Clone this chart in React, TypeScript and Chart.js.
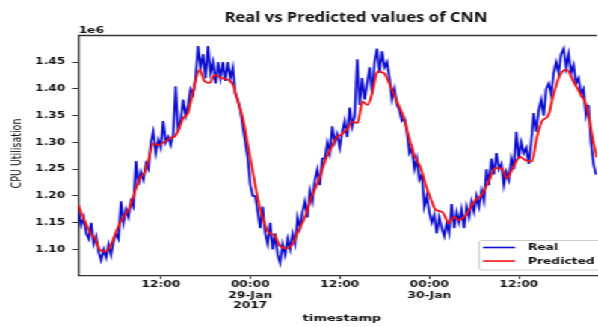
import React, { useEffect, useRef } from "react";
import { Chart, registerables } from "chart.js";

Chart.register(...registerables);

// ---------------- data ----------------
const chartTitle = "Real vs Predicted values of CNN";
const yAxisTitle = "CPU Utilisation";
const xAxisTitle = "timestamp";
const yOffsetText = "1e6";
const seriesNames = ["Real", "Predicted"];

// hours since 28-Jan-2017 00:00
const xTickHours = [12, 24, 36, 48, 60];
const xTickLabels: (string | string[])[] = [
  "12:00",
  ["00:00", "29-Jan", "2017"],
  "12:00",
  ["00:00", "30-Jan"],
  "12:00",
];
const yTickValues = [1.1, 1.15, 1.2, 1.25, 1.3, 1.35, 1.4, 1.45];
const xMin = 0.9;
const xMax = 70.45;
const yMin = 1.0515;
const yMax = 1.4996;

// Real series: sampled every 20 minutes starting at 01:00 on 28-Jan (values in 1e6)
const realStartHour = 1;
const realStepHours = 1 / 3;
const realValues = [
  1.17, 1.145, 1.16,
  1.13, 1.12, 1.15,
  1.11, 1.125, 1.095,
  1.08, 1.1, 1.085,
  1.11, 1.09, 1.115,
  1.13, 1.12, 1.19,
  1.15, 1.175, 1.16,
  1.19, 1.18, 1.265,
  1.22, 1.245, 1.23,
  1.26, 1.25, 1.3,
  1.32, 1.28, 1.305,
  1.29, 1.34, 1.3,
  1.31, 1.295, 1.315,
  1.405, 1.32, 1.34,
  1.38, 1.35, 1.37,
  1.4, 1.39, 1.42,
  1.48, 1.44, 1.465,
  1.42, 1.48, 1.43,
  1.45, 1.41, 1.45,
  1.42, 1.45, 1.415,
  1.45, 1.42, 1.44,
  1.39, 1.38, 1.36,
  1.33, 1.3, 1.27,
  1.22, 1.2, 1.2,
  1.17, 1.14, 1.18,
  1.13, 1.11, 1.15,
  1.1, 1.13, 1.09,
  1.075, 1.11, 1.09,
  1.12, 1.1, 1.13,
  1.11, 1.16, 1.14,
  1.17, 1.19, 1.16,
  1.21, 1.19, 1.23,
  1.25, 1.22, 1.27,
  1.27, 1.3, 1.28,
  1.33, 1.3, 1.315,
  1.29, 1.32, 1.34,
  1.31, 1.365, 1.33,
  1.35, 1.455, 1.37,
  1.42, 1.38, 1.41,
  1.44, 1.39, 1.45,
  1.475, 1.43, 1.47,
  1.44, 1.45, 1.42,
  1.38, 1.4, 1.37,
  1.36, 1.34, 1.345,
  1.32, 1.28, 1.29,
  1.25, 1.27, 1.23,
  1.24, 1.18, 1.2,
  1.17, 1.15, 1.165,
  1.13, 1.16, 1.14,
  1.125, 1.15, 1.13,
  1.185, 1.14, 1.17,
  1.15, 1.175, 1.14,
  1.18, 1.16, 1.19,
  1.17, 1.2, 1.18,
  1.21, 1.19, 1.25,
  1.22, 1.27, 1.24,
  1.28, 1.25, 1.26,
  1.22, 1.245, 1.23,
  1.27, 1.25, 1.32,
  1.27, 1.3, 1.28,
  1.29, 1.26, 1.3,
  1.355, 1.32, 1.36,
  1.38, 1.35, 1.4,
  1.41, 1.39, 1.43,
  1.45, 1.43, 1.465,
  1.475, 1.44, 1.465,
  1.43, 1.445, 1.41,
  1.42, 1.39, 1.4,
  1.35, 1.37, 1.3,
  1.26, 1.24,
];

// Predicted series (hours, values in 1e6)
const predHours = [
  0.94, 1.84, 2.73, 3.18, 3.84, 4.51, 5.18, 5.84, 6.51, 7.19,
  7.86, 8.52, 9.19, 9.86, 10.53, 10.97, 11.64, 12.53, 13.2, 13.87,
  14.54, 14.98, 15.65, 16.32, 17.21, 17.88, 18.55, 19.22, 20.12, 21.0,
  21.67, 22.34, 23.0, 23.67, 24.34, 25.01, 25.68, 26.57, 27.24, 27.91,
  28.81, 29.69, 30.36, 31.25, 32.15, 33.26, 34.16, 35.04, 35.71, 36.16,
  37.04, 37.71, 38.38, 39.05, 39.72, 40.39, 41.06, 41.95, 42.62, 43.29,
  43.96, 44.62, 45.29, 45.96, 46.86, 47.53, 48.19, 48.86, 49.75, 50.64,
  51.31, 51.98, 52.87, 54.16, 55.05, 55.95, 56.83, 57.73, 58.4, 59.29,
  60.17, 60.84, 61.74, 62.41, 63.08, 63.97, 64.64, 65.52, 66.42, 67.31,
  68.2, 69.09, 69.99, 70.43,
];
const predValues = [
  1.183, 1.152, 1.127, 1.121, 1.099, 1.096, 1.105, 1.127, 1.149, 1.164,
  1.18, 1.208, 1.233, 1.245, 1.277, 1.298, 1.295, 1.301, 1.308, 1.311,
  1.329, 1.345, 1.355, 1.395, 1.436, 1.414, 1.411, 1.426, 1.42, 1.417,
  1.408, 1.376, 1.345, 1.295, 1.245, 1.195, 1.158, 1.13, 1.127, 1.108,
  1.102, 1.111, 1.133, 1.158, 1.195, 1.233, 1.27, 1.295, 1.311, 1.314,
  1.326, 1.339, 1.336, 1.376, 1.37, 1.395, 1.432, 1.429, 1.411, 1.389,
  1.367, 1.345, 1.308, 1.277, 1.252, 1.22, 1.195, 1.174, 1.17, 1.149,
  1.161, 1.155, 1.164, 1.192, 1.202, 1.227, 1.252, 1.252, 1.233, 1.255,
  1.273, 1.267, 1.264, 1.308, 1.339, 1.351, 1.389, 1.426, 1.436, 1.414,
  1.392, 1.367, 1.3, 1.272,
];

const realColor = "#0c0cd0";
const predColor = "#ee1414";

// ---------------- layout ----------------
const STRETCH = 1.495; // the figure is stretched horizontally
const W = 400;
const H = 327;
const TICK_FONT = { family: "DejaVu Sans", size: 8.2, weight: "bold" as const };

export default function App() {
  const ref = useRef<HTMLCanvasElement>(null);

  useEffect(() => {
    if (!ref.current) return;
    const realData = realValues.map((v, i) => ({ x: realStartHour + i * realStepHours, y: v }));
    const predData = predHours.map((h, i) => ({ x: h, y: predValues[i] }));

    const decor = {
      id: "decor",
      afterDraw(chart: any) {
        const { ctx, chartArea } = chart;
        const { left, right, top, bottom } = chartArea;
        ctx.save();
        // top spine
        ctx.strokeStyle = "#333";
        ctx.lineWidth = 1.3;
        ctx.beginPath();
        ctx.moveTo(left, top);
        ctx.lineTo(right, top);
        ctx.stroke();

        ctx.fillStyle = "#111";
        // offset text
        ctx.font = 'bold 8.2px "DejaVu Sans"';
        ctx.textAlign = "left";
        ctx.textBaseline = "alphabetic";
        ctx.fillText(yOffsetText, left + 0.5, top - 2.5);

        // y title
        ctx.save();
        ctx.translate(12, 153.5);
        ctx.rotate(-Math.PI / 2);
        ctx.textAlign = "center";
        ctx.textBaseline = "middle";
        ctx.font = '9.5px "DejaVu Sans"';
        ctx.fillText(yAxisTitle, 0, 0);
        ctx.restore();

        // x title
        ctx.textAlign = "center";
        ctx.textBaseline = "middle";
        ctx.font = 'bold 8.7px "DejaVu Sans"';
        ctx.fillText(xAxisTitle, 342 / STRETCH, 318.5);

        // legend
        const bx = 479 / STRETCH;
        const by = 240.5;
        const bw = 130 / STRETCH;
        const bh = 29.5;
        ctx.save();
        ctx.fillStyle = "rgba(255,255,255,0.85)";
        ctx.strokeStyle = "#cccccc";
        ctx.lineWidth = 1;
        ctx.beginPath();
        (ctx as any).roundRect(bx, by, bw, bh, 2.5);
        ctx.fill();
        ctx.stroke();
        ctx.restore();
        const lx0 = 483 / STRETCH;
        const lx1 = 515 / STRETCH;
        const tx = 528 / STRETCH;
        const rows = [
          { y: 247.5, color: realColor, width: 1.6 },
          { y: 261, color: predColor, width: 1.6 },
        ];
        rows.forEach((r, i) => {
          ctx.strokeStyle = r.color;
          ctx.lineWidth = r.width;
          ctx.beginPath();
          ctx.moveTo(lx0, r.y);
          ctx.lineTo(lx1, r.y);
          ctx.stroke();
          ctx.fillStyle = "#111";
          ctx.font = 'bold 8.2px "DejaVu Sans"';
          ctx.textAlign = "left";
          ctx.textBaseline = "middle";
          ctx.fillText(seriesNames[i], tx, r.y + 0.5);
        });

        // title (not stretched like the rest), fitted to its width in the picture
        ctx.save();
        ctx.font = '700 14px "Open Sans"';
        const wText = ctx.measureText(chartTitle).width || 1;
        const fit = 263 / wText;
        ctx.scale(fit / STRETCH, 1);
        ctx.fillStyle = "#111";
        ctx.textAlign = "center";
        ctx.textBaseline = "alphabetic";
        ctx.fillText(chartTitle, 356 / fit, 22);
        ctx.restore();

        ctx.restore();
      },
    };

    const chart = new Chart(ref.current, {
      type: "line",
      data: {
        datasets: [
          {
            label: seriesNames[0],
            data: realData,
            borderColor: realColor,
            borderWidth: 1.6,
            pointRadius: 0,
            tension: 0,
            order: 2,
          },
          {
            label: seriesNames[1],
            data: predData,
            borderColor: predColor,
            borderWidth: 1.7,
            pointRadius: 0,
            cubicInterpolationMode: "monotone",
            order: 1,
          },
        ],
      },
      options: {
        animation: false,
        responsive: true,
        maintainAspectRatio: false,
        devicePixelRatio: 1,
        parsing: false as any,
        layout: { padding: { top: 35.5, right: 0, left: 0, bottom: 0 } },
        plugins: {
          legend: { display: false },
          title: { display: false },
          tooltip: { enabled: false },
        },
        scales: {
          x: {
            type: "linear",
            min: xMin,
            max: xMax,
            afterBuildTicks: (ax: any) => {
              ax.ticks = xTickHours.map((v) => ({ value: v }));
            },
            afterFit: (ax: any) => {
              ax.height = H - 275.5;
            },
            ticks: {
              autoSkip: false,
              maxRotation: 0,
              padding: 1,
              color: "#111",
              font: { ...TICK_FONT, lineHeight: 1.25 },
              callback: (v: any) => {
                const i = xTickHours.indexOf(Number(v));
                return i >= 0 ? xTickLabels[i] : "";
              },
            },
            grid: { drawOnChartArea: false, drawTicks: true, tickLength: 3.5, tickColor: "#333", tickWidth: 1 },
            border: { display: true, color: "#333", width: 1.3 },
          },
          y: {
            type: "linear",
            min: yMin,
            max: yMax,
            afterBuildTicks: (ax: any) => {
              ax.ticks = yTickValues.map((v) => ({ value: v }));
            },
            afterFit: (ax: any) => {
              ax.width = 78 / STRETCH;
            },
            ticks: {
              padding: 4.5,
              color: "#111",
              font: TICK_FONT,
              callback: (v: any) => Number(v).toFixed(2),
            },
            grid: { drawOnChartArea: false, drawTicks: true, tickLength: 4, tickColor: "#333", tickWidth: 1 },
            border: { display: true, color: "#333", width: 1.3 },
          },
        },
      },
      plugins: [decor],
    });
    return () => chart.destroy();
  }, []);

  return (
    <div
      style={{
        position: "fixed",
        left: 0,
        top: 0,
        width: W,
        height: H,
        transform: `scaleX(${STRETCH})`,
        transformOrigin: "0 0",
        background: "#fff",
      }}
    >
      <canvas ref={ref} />
    </div>
  );
}
